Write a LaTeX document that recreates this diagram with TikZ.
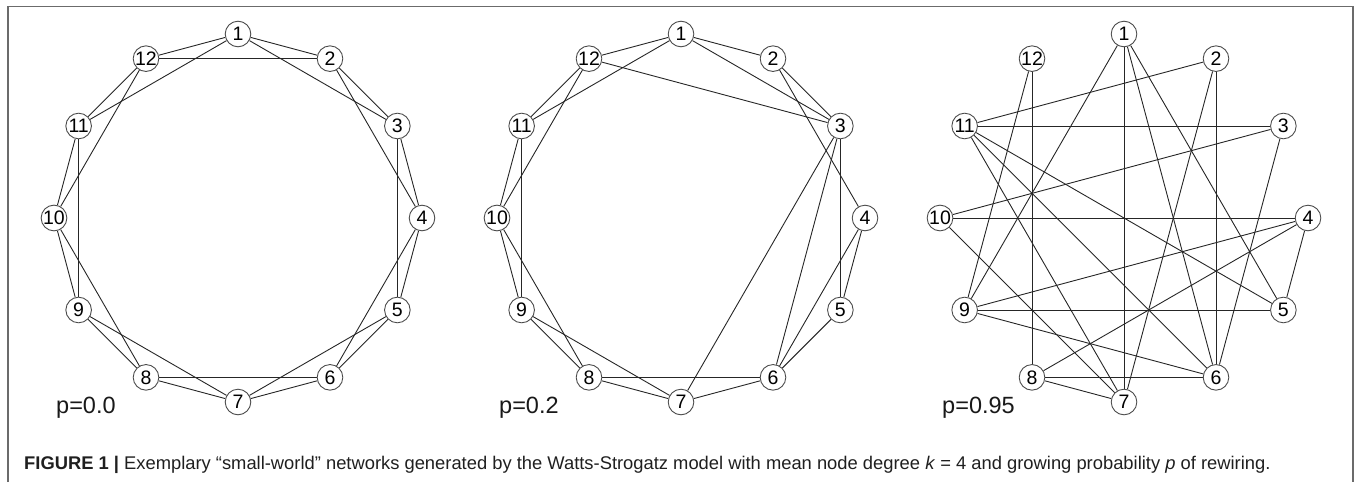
\documentclass[tikz,border=0pt]{standalone}
\usepackage{fontspec}
\setmainfont{Liberation Sans}
\usetikzlibrary{backgrounds}
\begin{document}
\begin{tikzpicture}[x=1pt,y=-1pt,
  vtx/.style={circle, draw=black!70, fill=white, line width=0.9pt, minimum size=25.6pt, inner sep=0pt, font=\fontsize{19.5}{19.5}\selectfont},
  edge/.style={draw=black!85, line width=0.9pt},
  plabel/.style={anchor=base west, inner sep=0pt, font=\fontsize{23.5}{24}\selectfont, text=black!90},
  frame/.style={draw=black!58, line width=1.5pt}]
\useasboundingbox (0,0) rectangle (1356,482);
% frame
\coordinate (fa) at (8,482);
\coordinate (fb) at (8,6.5);
\coordinate (fc) at (1353,6.5);
\coordinate (fd) at (1353,482);
\draw[frame] (fa) -- (fb) -- (fc) -- (fd);
% nodes
\foreach \g/\cx in {a/238,b/681,c/1124}{
  \foreach \i in {1,...,12}{
    \pgfmathsetmacro\ang{90-30*(\i-1)}
    \node[vtx] (\g\i) at ({\cx+184*cos(\ang)},{218-184*sin(\ang)}) {\i};
  }
  \node[plabel] (lbl\g) at ({\cx-182},413) {};
}
\node[plabel] at (lbla.base west) {p=0.0};
\node[plabel] at (lblb.base west) {p=0.2};
\node[plabel] at (lblc.base west) {p=0.95};
\begin{scope}[on background layer]
% graph a: ring lattice k=4
\foreach \i in {1,...,12}{
  \pgfmathtruncatemacro\j{mod(\i,12)+1}
  \pgfmathtruncatemacro\k{mod(\i+1,12)+1}
  \draw[edge] (a\i) -- (a\j);
  \draw[edge] (a\i) -- (a\k);
}
% graph b: p=0.2
\foreach \u/\v in {1/2,1/12,1/3,1/11,12/11,12/10,12/3,2/3,2/4,3/5,3/6,3/7,4/5,4/6,5/6,6/7,6/8,7/8,7/9,8/9,8/10,9/10,9/11,10/11}{
  \draw[edge] (b\u) -- (b\v);
}
% graph c: p=0.95
\foreach \u/\v in {1/9,1/7,1/6,1/5,12/8,12/9,2/11,2/6,2/7,3/11,3/10,3/6,4/10,4/9,4/8,4/5,5/9,5/11,6/8,6/9,6/11,7/8,7/10,7/11}{
  \draw[edge] (c\u) -- (c\v);
}
\end{scope}
% caption
\node[anchor=base west, inner sep=0pt, text=black!88] (cap) at (24,469)
  {\resizebox{1246pt}{!}{\textbf{FIGURE 1 |} Exemplary “small-world” networks generated by the Watts-Strogatz model with mean node degree \textit{k} = 4 and growing probability \textit{p} of rewiring.}};
\end{tikzpicture}
\end{document}
